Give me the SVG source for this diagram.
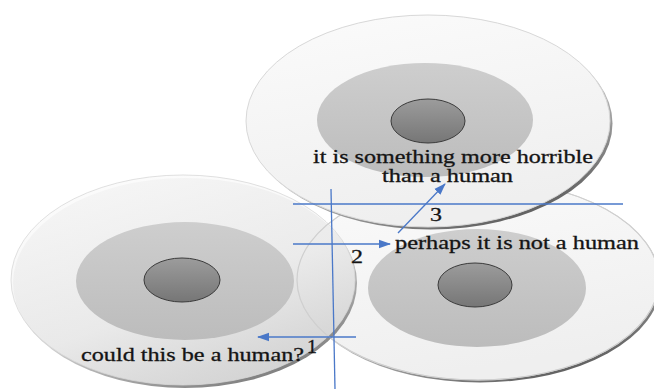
<svg xmlns="http://www.w3.org/2000/svg" width="654" height="389" viewBox="0 0 654 389">
<defs>
<linearGradient id="outer" x1="0" y1="0" x2="0.3" y2="1">
<stop offset="0" stop-color="#fbfbfb"/>
<stop offset="1" stop-color="#efefef"/>
</linearGradient>
<linearGradient id="shadow" x1="0.2" y1="0" x2="0.8" y2="1">
<stop offset="0" stop-color="#e4e4e4"/>
<stop offset="0.55" stop-color="#c4c4c4"/>
<stop offset="1" stop-color="#505050"/>
</linearGradient>
<linearGradient id="mid" x1="0" y1="0" x2="0" y2="1">
<stop offset="0" stop-color="#cecece"/>
<stop offset="1" stop-color="#bcbcbc"/>
</linearGradient>
<linearGradient id="core" x1="0" y1="0" x2="0" y2="1">
<stop offset="0" stop-color="#9c9c9c"/>
<stop offset="1" stop-color="#767676"/>
</linearGradient>
<marker id="ah" viewBox="0 0 12 10" refX="11" refY="5" markerWidth="12" markerHeight="10" markerUnits="userSpaceOnUse" orient="auto">
<path d="M0,0.8 L12,5 L0,9.2 Z" fill="#4a78c8"/>
</marker>
</defs>
<style>
.sh{fill:url(#shadow)}
.out{fill:url(#outer);stroke:#d8d8d8;stroke-width:1}
.mid{fill:url(#mid)}
.core{fill:url(#core);stroke:#3a3a3a;stroke-width:1}
.edge{fill:none;stroke:#cfcfcf;stroke-width:1.2}
.ln{stroke:#4a78c8;stroke-width:1.3;fill:none}
text{font-family:"Liberation Serif","Times New Roman",serif;font-size:19px;fill:#141414;stroke:#141414;stroke-width:0.3}
</style>
<rect width="654" height="389" fill="#ffffff"/>
<g id="disc-right">
<ellipse class="sh" cx="480" cy="282.5" rx="181" ry="100"/>
<ellipse class="out" cx="478" cy="280" rx="181" ry="100"/>
<ellipse class="mid" cx="477" cy="288" rx="109" ry="59"/>
<ellipse class="core" cx="475" cy="285" rx="37" ry="22"/>
</g>
<g id="disc-left">
<ellipse class="sh" cx="185" cy="283" rx="172" ry="105" fill-opacity="0.8"/>
<ellipse class="out" cx="183" cy="280" rx="172" ry="105" fill-opacity="0.75" stroke-opacity="0.8"/>
<ellipse class="mid" cx="185" cy="281" rx="109" ry="59"/>
<ellipse class="core" cx="182" cy="280" rx="38" ry="22"/>
<ellipse class="edge" cx="478" cy="280" rx="181" ry="100"/>
</g>
<g id="disc-top">
<ellipse class="sh" cx="430.5" cy="123.5" rx="182" ry="106"/>
<ellipse class="out" cx="428" cy="121" rx="182" ry="106"/>
<ellipse class="mid" cx="425" cy="120" rx="108" ry="57"/>
<ellipse class="core" cx="428" cy="121" rx="37" ry="22"/>
</g>
<g id="connectors">
<line class="ln" x1="331" y1="189" x2="335" y2="389"/>
<line class="ln" x1="293" y1="204" x2="623" y2="204"/>
<line class="ln" x1="293" y1="244" x2="390" y2="244" marker-end="url(#ah)"/>
<line class="ln" x1="356" y1="337" x2="258" y2="337" marker-end="url(#ah)"/>
<line class="ln" x1="398" y1="233" x2="445" y2="184" marker-end="url(#ah)"/>
</g>
<g id="labels">
<text x="313" y="163" textLength="280" lengthAdjust="spacingAndGlyphs">it is something more horrible</text>
<text x="382" y="182" textLength="131" lengthAdjust="spacingAndGlyphs">than a human</text>
<text x="395" y="249" textLength="244" lengthAdjust="spacingAndGlyphs">perhaps it is not a human</text>
<text x="81" y="361" textLength="223" lengthAdjust="spacingAndGlyphs">could this be a human?</text>
<text x="307" y="353" textLength="10" lengthAdjust="spacingAndGlyphs">1</text>
<text x="351" y="263" textLength="12" lengthAdjust="spacingAndGlyphs">2</text>
<text x="430" y="221" textLength="12" lengthAdjust="spacingAndGlyphs">3</text>
</g>
</svg>
